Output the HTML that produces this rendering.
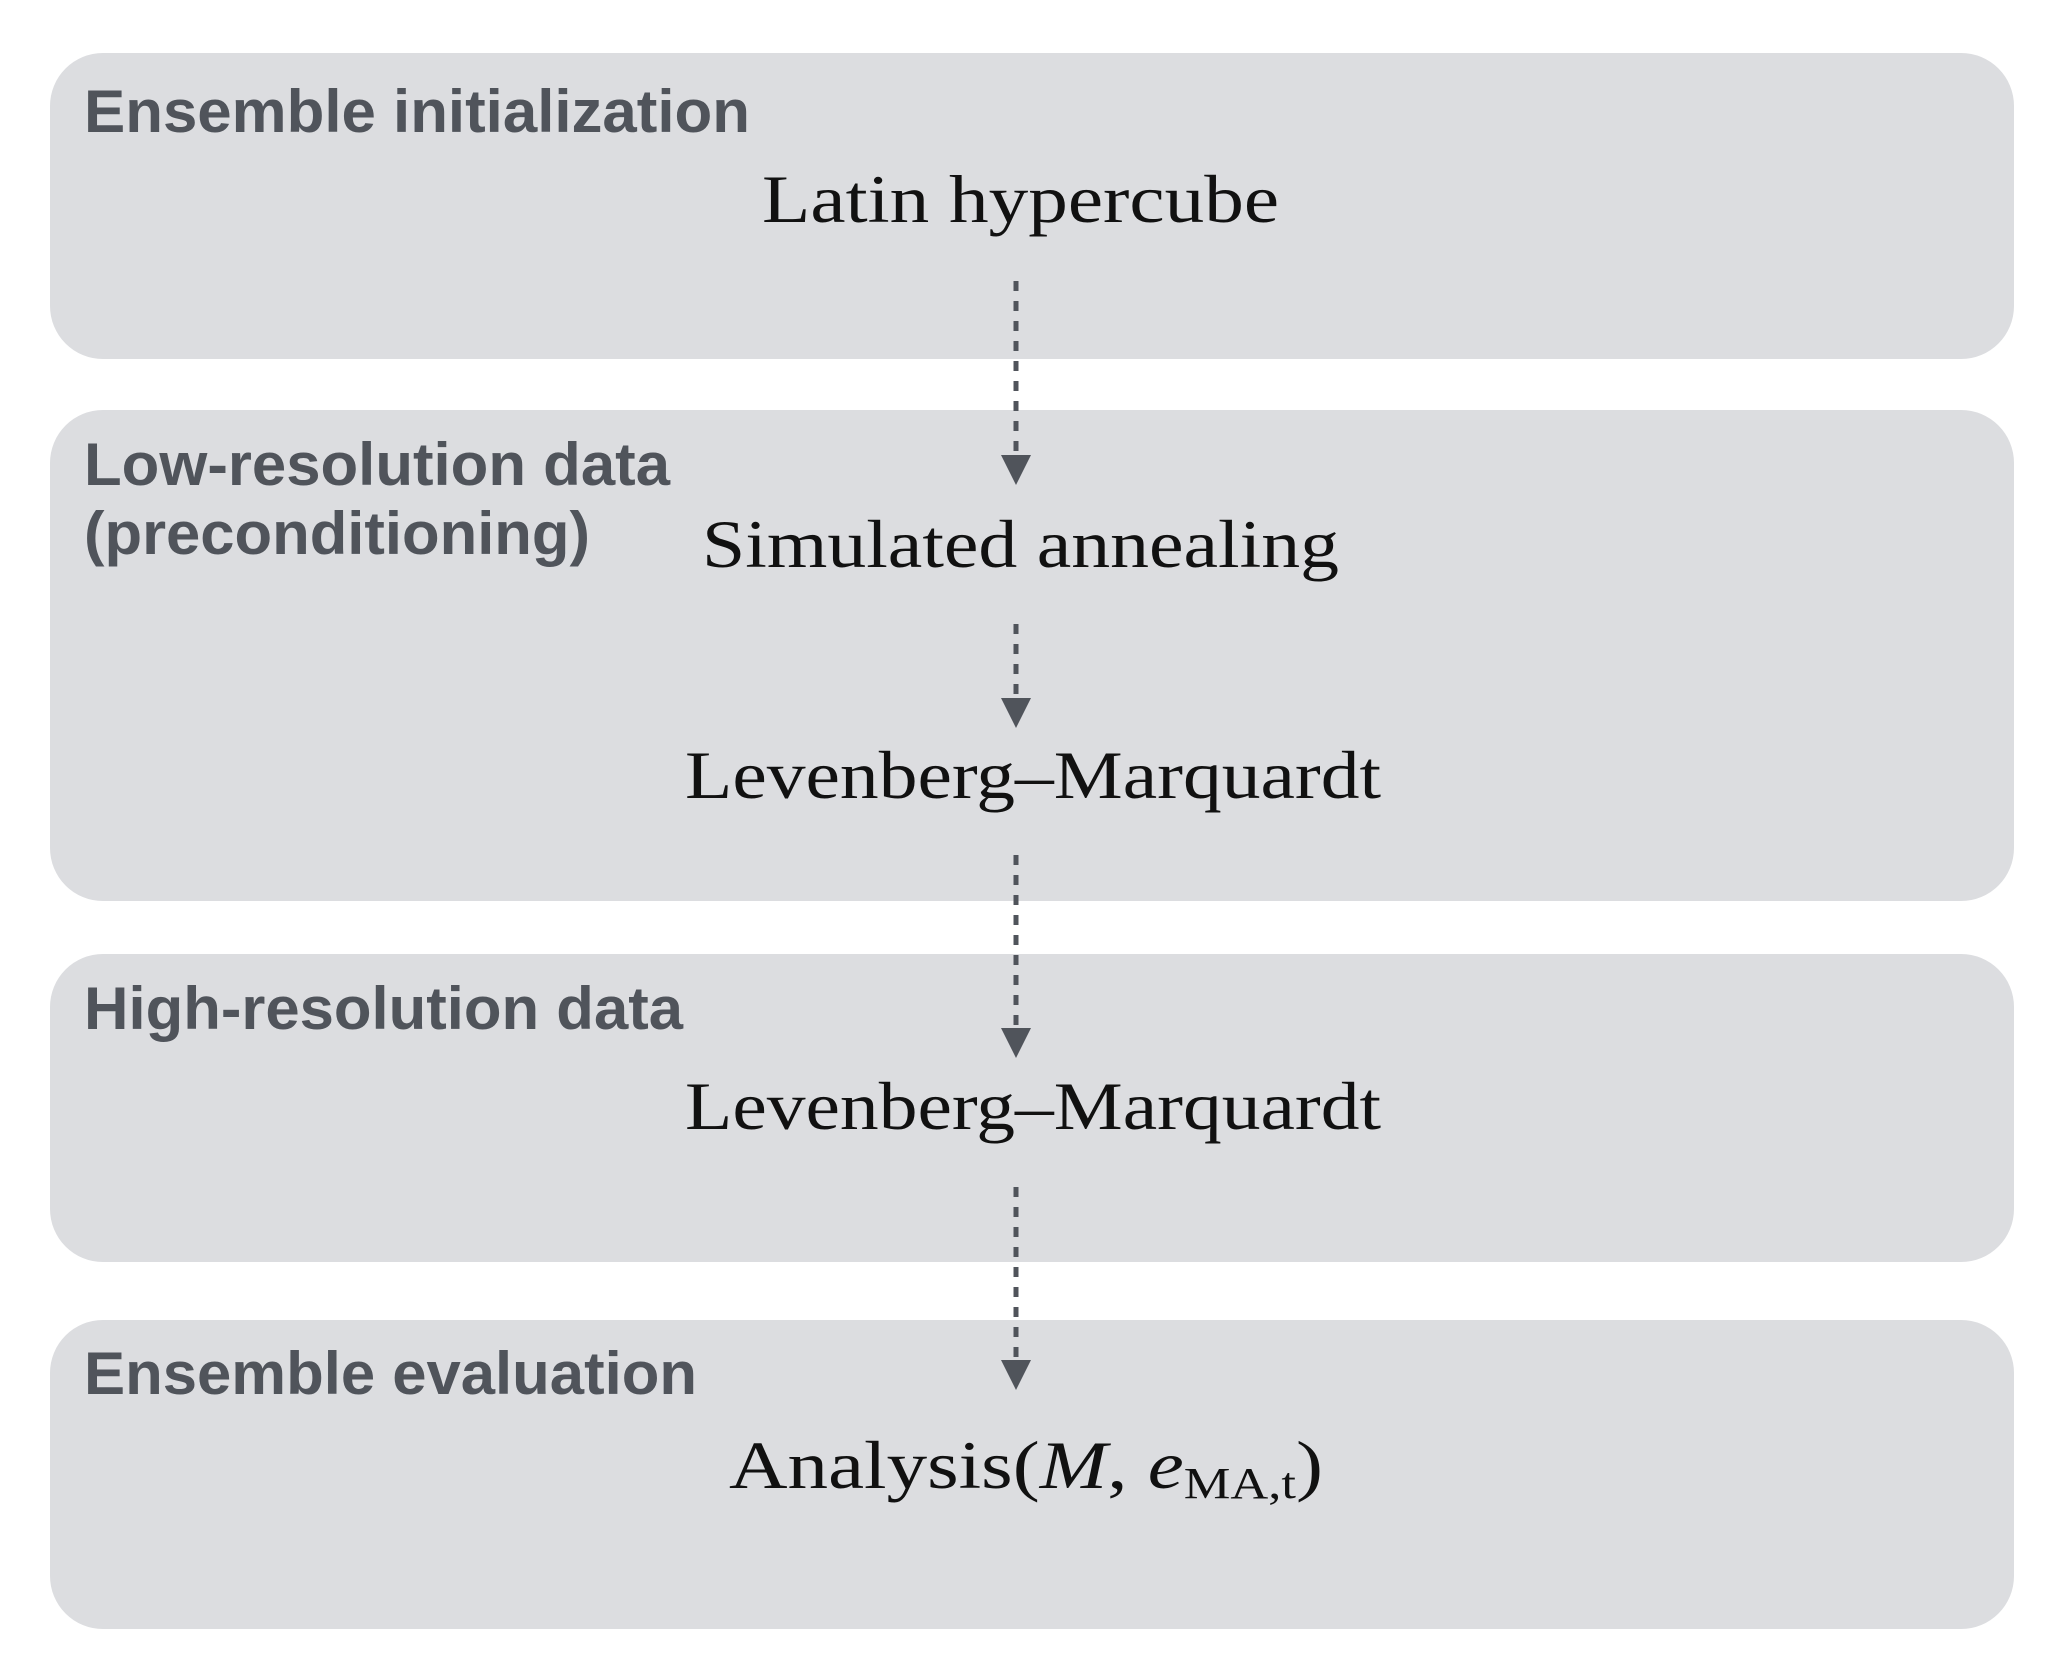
<!DOCTYPE html>
<html><head><meta charset="utf-8"><style>
html,body{margin:0;padding:0;background:#fff}
svg{display:block}
.lab{font-family:"Liberation Sans",Arial,sans-serif;font-weight:bold;font-size:60px;fill:#50545b}
.ser{font-family:"Liberation Serif","DejaVu Serif",serif;font-size:68px;fill:#111}
</style></head><body>
<svg width="2067" height="1679" viewBox="0 0 2067 1679" xmlns="http://www.w3.org/2000/svg">
<rect x="50" y="53" width="1964" height="306" rx="53" fill="#dcdde0"/>
<rect x="50" y="410" width="1964" height="491" rx="53" fill="#dcdde0"/>
<rect x="50" y="954" width="1964" height="308" rx="53" fill="#dcdde0"/>
<rect x="50" y="1320" width="1964" height="309" rx="53" fill="#dcdde0"/>

<text class="lab" x="84" y="132" textLength="666" lengthAdjust="spacingAndGlyphs">Ensemble initialization</text>
<text class="lab" x="84" y="485" textLength="586" lengthAdjust="spacingAndGlyphs">Low-resolution data</text>
<text class="lab" x="84" y="554" textLength="506" lengthAdjust="spacingAndGlyphs">(preconditioning)</text>
<text class="lab" x="84" y="1029" textLength="599" lengthAdjust="spacingAndGlyphs">High-resolution data</text>
<text class="lab" x="84" y="1394" textLength="613" lengthAdjust="spacingAndGlyphs">Ensemble evaluation</text>

<text class="ser" x="762" y="222" textLength="517" lengthAdjust="spacingAndGlyphs">Latin hypercube</text>
<text class="ser" x="702" y="567" textLength="637" lengthAdjust="spacingAndGlyphs">Simulated annealing</text>
<text class="ser" x="685" y="798" textLength="696" lengthAdjust="spacingAndGlyphs">Levenberg–Marquardt</text>
<text class="ser" x="685" y="1129" textLength="696" lengthAdjust="spacingAndGlyphs">Levenberg–Marquardt</text>
<text class="ser" x="729" y="1488" textLength="594" lengthAdjust="spacingAndGlyphs">Analysis(<tspan font-style="italic">M</tspan>, <tspan font-style="italic">e</tspan><tspan font-size="44" dy="10">MA,t</tspan><tspan dy="-10">)</tspan></text>

<g stroke="#50545b" stroke-width="5" stroke-dasharray="10,10" fill="none">
<line x1="1016" y1="281" x2="1016" y2="456"/>
<line x1="1016" y1="624" x2="1016" y2="698"/>
<line x1="1016" y1="855" x2="1016" y2="1028"/>
<line x1="1016" y1="1187" x2="1016" y2="1360"/>
</g>
<g fill="#50545b">
<polygon points="1001,455 1031,455 1016,485"/>
<polygon points="1001,698 1031,698 1016,728"/>
<polygon points="1001,1028 1031,1028 1016,1058"/>
<polygon points="1001,1360 1031,1360 1016,1390"/>
</g>
</svg>
</body></html>
